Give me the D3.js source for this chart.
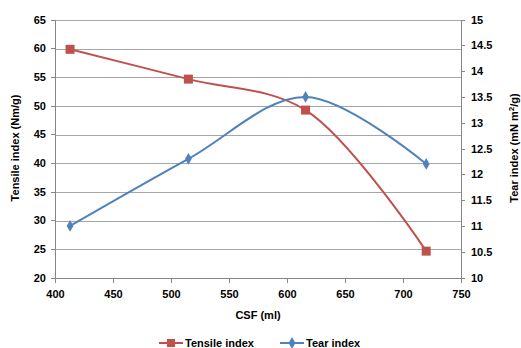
<!DOCTYPE html>
<meta charset="utf-8">
<head>
    <title>CSF chart</title>
</head>
<body>
<style>
    body {
        margin: 0;
        background-color: #ffffff;
    }
    svg text {
        font-family: "Liberation Sans", Arial, sans-serif;
        font-weight: bold;
        fill: #000;
    }
    .grid line {
        stroke: #a6a6a6;
        stroke-width: 1px;
        shape-rendering: crispEdges;
    }
    .axis path,
    .axis line {
        fill: none;
        stroke: #868686;
        shape-rendering: crispEdges;
    }
</style>
<svg width="521" height="348"></svg>
<script src="https://d3js.org/d3.v7.min.js"></script>
<script>
    // data
    var csf = [413, 515, 616, 720];
    var tensile = [59.8, 54.6, 49.2, 24.6];
    var tear = [11.0, 12.3, 13.5, 12.2];
    var xTicks = [400, 450, 500, 550, 600, 650, 700, 750];
    var leftTicks = [20, 25, 30, 35, 40, 45, 50, 55, 60, 65];
    var rightTicks = [10, 10.5, 11, 11.5, 12, 12.5, 13, 13.5, 14, 14.5, 15];

    var svg = d3.select("svg"),
        margin = {top: 19.5, right: 60, bottom: 70, left: 55},
        width = 461 - margin.left,
        height = 277.5 - margin.top;

    var x = d3.scaleLinear().domain([400, 750]).range([0, width]);
    var y = d3.scaleLinear().domain([20, 65]).range([height, 0]);
    var y2 = d3.scaleLinear().domain([10, 15]).range([height, 0]);

    var g = svg.append("g")
        .attr("transform", "translate(" + margin.left + "," + margin.top + ")");

    g.append("g")
        .attr("class", "grid")
        .selectAll("line")
        .data(leftTicks.slice(1))
        .enter().append("line")
        .attr("x1", 0)
        .attr("x2", width)
        .attr("y1", function(d) { return Math.round(y(d)) + 0.5; })
        .attr("y2", function(d) { return Math.round(y(d)) + 0.5; });

    var xAxis = g.append("g")
        .attr("class", "x axis")
        .attr("transform", "translate(0," + height + ")")
        .call(d3.axisBottom(x).tickValues(xTicks).tickSize(5).tickSizeOuter(0));
    xAxis.selectAll("text").attr("dy", "1.1em").style("font-size", "11px");

    var yAxis = g.append("g")
        .attr("class", "y axis")
        .call(d3.axisLeft(y).tickValues(leftTicks).tickSize(4).tickSizeOuter(0));
    yAxis.selectAll("text").attr("x", -9).style("font-size", "11px");

    var y2Axis = g.append("g")
        .attr("class", "y axis")
        .attr("transform", "translate(" + width + ",0)")
        .call(d3.axisRight(y2).tickValues(rightTicks).tickFormat(function(d) { return String(d); })
            .tickSize(4).tickSizeOuter(0));
    y2Axis.selectAll("text").attr("x", 10).style("font-size", "11px");

    var curve = d3.curveCatmullRom.alpha(0.5);

    var tensileLine = d3.line()
        .x(function(d, i) { return x(csf[i]); })
        .y(function(d) { return y(d); })
        .curve(curve);

    var tearLine = d3.line()
        .x(function(d, i) { return x(csf[i]); })
        .y(function(d) { return y2(d); })
        .curve(curve);

    g.append("path")
        .datum(tensile)
        .attr("fill", "none")
        .attr("stroke", "#C0504D")
        .attr("stroke-width", 2)
        .attr("d", tensileLine);

    g.append("path")
        .datum(tear)
        .attr("fill", "none")
        .attr("stroke", "#4F81BD")
        .attr("stroke-width", 2)
        .attr("d", tearLine);

    g.selectAll(".sq")
        .data(tensile)
        .enter().append("rect")
        .attr("class", "sq")
        .attr("x", function(d, i) { return x(csf[i]) - 4.5; })
        .attr("y", function(d) { return y(d) - 4.5; })
        .attr("width", 9)
        .attr("height", 9)
        .attr("fill", "#C0504D");

    var diamond = d3.symbol().type(d3.symbolDiamond).size(40);
    g.selectAll(".dm")
        .data(tear)
        .enter().append("path")
        .attr("class", "dm")
        .attr("transform", function(d, i) { return "translate(" + x(csf[i]) + "," + y2(d) + ")"; })
        .attr("d", diamond)
        .attr("fill", "#4F81BD");

    svg.append("text")
        .attr("x", margin.left + width / 2)
        .attr("y", 319)
        .style("text-anchor", "middle")
        .style("font-size", "11px")
        .text("CSF (ml)");

    svg.append("text")
        .attr("transform", "translate(19,148) rotate(-90)")
        .style("text-anchor", "middle")
        .style("font-size", "11px")
        .text("Tensile index (Nm/g)");

    var rt = svg.append("text")
        .attr("transform", "translate(518,148) rotate(-90)")
        .style("text-anchor", "middle")
        .style("font-size", "11px");
    rt.append("tspan").text("Tear index (mN m");
    rt.append("tspan").attr("dy", -4).style("font-size", "8px").text("2");
    rt.append("tspan").attr("dy", 4).text("/g)");

    // legend
    var legend = [
        {name: "Tensile index", color: "#C0504D", x: 159, shape: "sq"},
        {name: "Tear index", color: "#4F81BD", x: 280, shape: "dm"}
    ];
    var lg = svg.selectAll(".lg")
        .data(legend)
        .enter().append("g")
        .attr("transform", function(d) { return "translate(" + d.x + ",343)"; });
    lg.append("line")
        .attr("x1", 0).attr("x2", 24)
        .attr("stroke", function(d) { return d.color; })
        .attr("stroke-width", 2);
    lg.filter(function(d) { return d.shape === "sq"; })
        .append("rect")
        .attr("x", 8).attr("y", -4).attr("width", 8).attr("height", 8)
        .attr("fill", function(d) { return d.color; });
    lg.filter(function(d) { return d.shape === "dm"; })
        .append("path")
        .attr("transform", "translate(12,0)")
        .attr("d", diamond)
        .attr("fill", function(d) { return d.color; });
    lg.append("text")
        .attr("x", 26)
        .attr("dy", "0.35em")
        .style("font-size", "11px")
        .text(function(d) { return d.name; });
</script>
</body>
